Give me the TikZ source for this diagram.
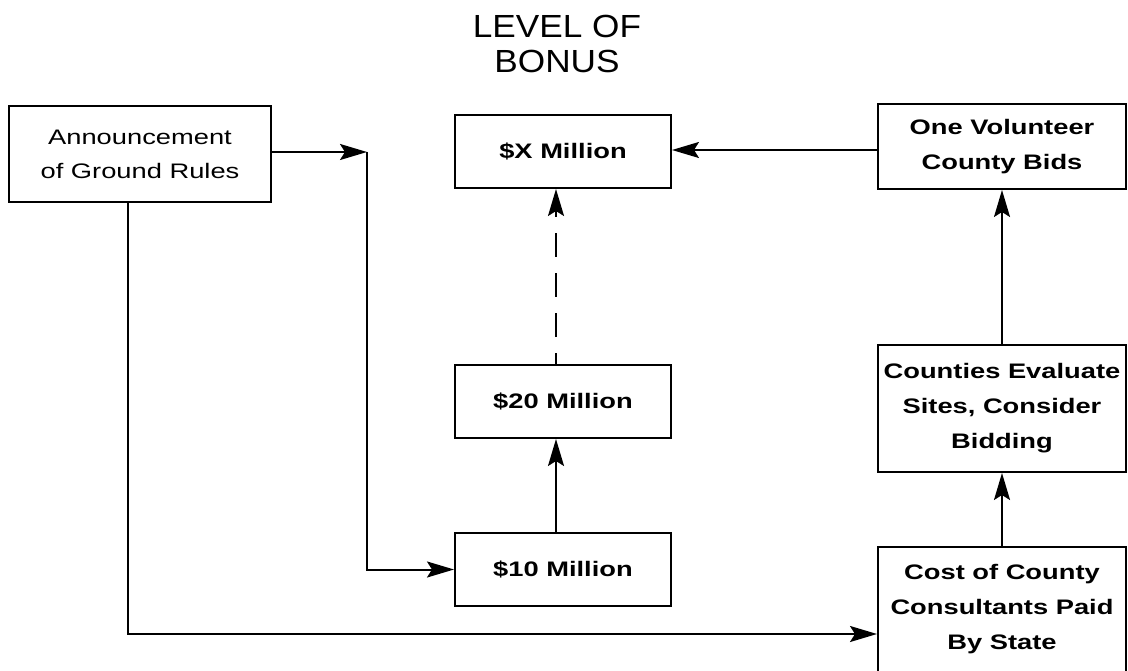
\documentclass[tikz,border=0pt]{standalone}
\usepackage{fontspec}
\usepackage{tikz}
\usetikzlibrary{arrows.meta,positioning,calc}
\newfontfamily\boxfont{Liberation Sans}[FakeStretch=1.3]
\newfontfamily\headfont{Liberation Sans}[FakeStretch=1.1]

\begin{document}
\begin{tikzpicture}[
    x=1pt,y=-1pt,
    stage/.style={draw,line width=2pt,inner sep=0pt,align=center,font=\boxfont\fontsize{21}{34}\selectfont},
    bonus/.style={stage,minimum width=216pt,minimum height=73pt,font=\boxfont\bfseries\fontsize{21}{34}\selectfont},
    county/.style={stage,minimum width=248pt,font=\boxfont\bfseries\fontsize{21}{35}\selectfont},
    arrow/.style={-{Stealth[length=27pt,width=16pt,inset=5pt]},line width=2pt}
  ]
    \useasboundingbox (0,0) rectangle (1128,671);
    \node[font=\headfont\fontsize{32}{35}\selectfont,align=center,inner sep=0pt] (title) at (557,44) {LEVEL OF\\BONUS};
    \node[stage,minimum width=262pt,minimum height=96pt] (rules) at (140,154) {Announcement\\of Ground Rules};
    \node[bonus] (ten) at (563,569.5) {\$10 Million};
    \node[bonus,above=93pt of ten] (twenty) {\$20 Million};
    \node[bonus,above=175pt of twenty] (xmil) {\$X Million};
    \node[county,minimum height=85pt] (volunteer) at (1002,146.5) {One Volunteer\\County Bids};
    \node[county,minimum height=127pt,below=154pt of volunteer] (evaluate) {Counties Evaluate\\Sites, Consider\\Bidding};
    \node[county,minimum height=125pt,below=73pt of evaluate] (cost) {Cost of County\\Consultants Paid\\By State};
    \coordinate (split) at (367,152);
    \coordinate (bend) at (128,634);
    \draw[arrow] (rules.east |- split) -- (split);
    \draw[arrow] (split) |- (ten.west);
    \draw[arrow] (rules.south -| bend) -- (bend) -- (bend -| cost.west);
    \draw[arrow] ([xshift=-7pt]ten.north) -- ([xshift=-7pt]twenty.south);
    \draw[arrow,dash pattern=on 24pt off 16pt,dash phase=13pt] ([xshift=-7pt]twenty.north) -- ([xshift=-7pt]xmil.south);
    \draw[arrow] ([yshift=-3.5pt]volunteer.west) -- ([yshift=-3.5pt]volunteer.west -| xmil.east);
    \draw[arrow] (evaluate.north) -- (volunteer.south);
    \draw[arrow] (cost.north) -- (evaluate.south);
  \end{tikzpicture}
\end{document}
